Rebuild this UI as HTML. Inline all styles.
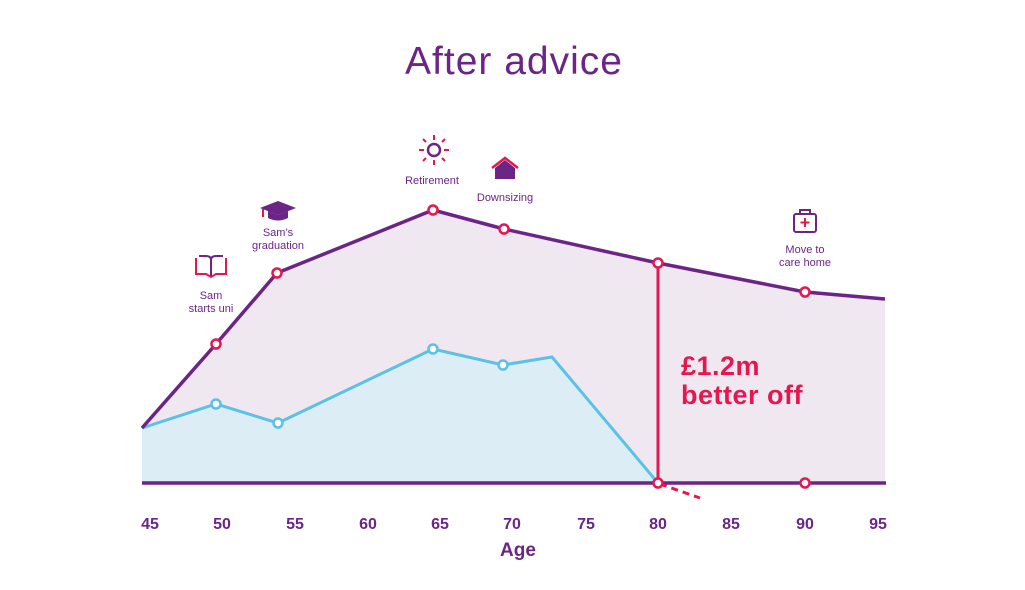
<!DOCTYPE html>
<html><head><style>
body{margin:0;background:#fff}
svg text{font-family:"Liberation Sans",sans-serif}
</style></head><body>
<svg width="1025" height="585" viewBox="0 0 1025 585" xmlns="http://www.w3.org/2000/svg">
<text x="514" y="74" text-anchor="middle" font-size="39" letter-spacing="1" fill="#6b2586">After advice</text>
<polygon points="142,428 216,344 277,273 433,210 504,229 658,263 805,292 885,299 885,483 142,483" fill="#efe8f1"/>
<polygon points="142,428 216,404 278,423 433,349 503,365 552,357 658,483 142,483" fill="#dcedf6"/>
<polyline points="142,428 216,404 278,423 433,349 503,365 552,357 658,483" fill="none" stroke="#5bc2e5" stroke-width="3"/>
<polyline points="142,428 216,344 277,273 433,210 504,229 658,263 805,292 885,299" fill="none" stroke="#6b2586" stroke-width="3.5"/>
<line x1="142" y1="483" x2="886" y2="483" stroke="#6b2586" stroke-width="3.5"/>
<line x1="658" y1="263" x2="658" y2="483" stroke="#e5174f" stroke-width="3"/>
<line x1="660" y1="484" x2="700" y2="498" stroke="#e5174f" stroke-width="3" stroke-dasharray="7,5"/>
<g fill="#fff" stroke="#e5174f" stroke-width="2.5">
<circle cx="216" cy="344" r="4.5"/><circle cx="277" cy="273" r="4.5"/><circle cx="433" cy="210" r="4.5"/><circle cx="504" cy="229" r="4.5"/><circle cx="658" cy="263" r="4.5"/><circle cx="805" cy="292" r="4.5"/><circle cx="658" cy="483" r="4.5"/><circle cx="805" cy="483" r="4.5"/>
</g>
<g fill="#fff" stroke="#5bc2e5" stroke-width="2.5">
<circle cx="216" cy="404" r="4.5"/><circle cx="278" cy="423" r="4.5"/><circle cx="433" cy="349" r="4.5"/><circle cx="503" cy="365" r="4.5"/>
</g>
<text x="681" y="375" font-size="27" font-weight="bold" letter-spacing="0.5" fill="#e5174f">£1.2m</text>
<text x="681" y="404" font-size="27" font-weight="bold" letter-spacing="0.5" fill="#e5174f">better off</text>
<g font-size="16" font-weight="bold" fill="#6b2586" text-anchor="middle">
<text x="150" y="529">45</text><text x="222" y="529">50</text><text x="295" y="529">55</text><text x="368" y="529">60</text><text x="440" y="529">65</text><text x="512" y="529">70</text><text x="586" y="529">75</text><text x="658" y="529">80</text><text x="731" y="529">85</text><text x="805" y="529">90</text><text x="878" y="529">95</text>
<text x="518" y="556" font-size="19">Age</text>
</g>
<g font-size="11" fill="#6b2586" text-anchor="middle">
<text x="211" y="299">Sam</text><text x="211" y="312">starts uni</text>
<text x="278" y="236">Sam’s</text><text x="278" y="249">graduation</text>
<text x="432" y="184">Retirement</text>
<text x="505" y="201">Downsizing</text>
<text x="805" y="253">Move to</text><text x="805" y="266">care home</text>
</g>
<g fill="none" stroke-width="2">
<path d="M196,258 v16 h10 l5,3 l5,-3 h10 v-16" stroke="#e5174f"/>
<path d="M199,256 h7 q5,0 5,4 v16 M223,256 h-7 q-5,0 -5,4" stroke="#6b2586"/>
</g>
<polygon points="260,208 278,201 296,208 278,215" fill="#6b2586"/>
<path d="M268,211 v7 q10,5 20,0 v-7 l-10,4z" fill="#6b2586"/>
<line x1="263" y1="209" x2="263" y2="217" stroke="#e5174f" stroke-width="2"/>
<circle cx="434" cy="150" r="6" fill="none" stroke="#6b2586" stroke-width="2.5"/>
<g stroke="#e5174f" stroke-width="2"><line x1="434" y1="135" x2="434" y2="140"/><line x1="434" y1="160" x2="434" y2="165"/><line x1="419" y1="150" x2="424" y2="150"/><line x1="444" y1="150" x2="449" y2="150"/><line x1="423" y1="139" x2="426" y2="142"/><line x1="442" y1="158" x2="445" y2="161"/><line x1="445" y1="139" x2="442" y2="142"/><line x1="426" y1="158" x2="423" y2="161"/></g>
<path d="M492,168 l13,-10 l13,10" fill="none" stroke="#e5174f" stroke-width="2.5"/>
<path d="M495,168 l10,-8 l10,8 v11 h-20z" fill="#6b2586"/>
<rect x="794" y="214" width="22" height="18" rx="2" fill="none" stroke="#6b2586" stroke-width="2"/>
<path d="M800,214 v-4 h10 v4" fill="none" stroke="#6b2586" stroke-width="2"/>
<path d="M805,218 v9 M800.5,222.5 h9" stroke="#e5174f" stroke-width="2"/>
</svg>
</body></html>
